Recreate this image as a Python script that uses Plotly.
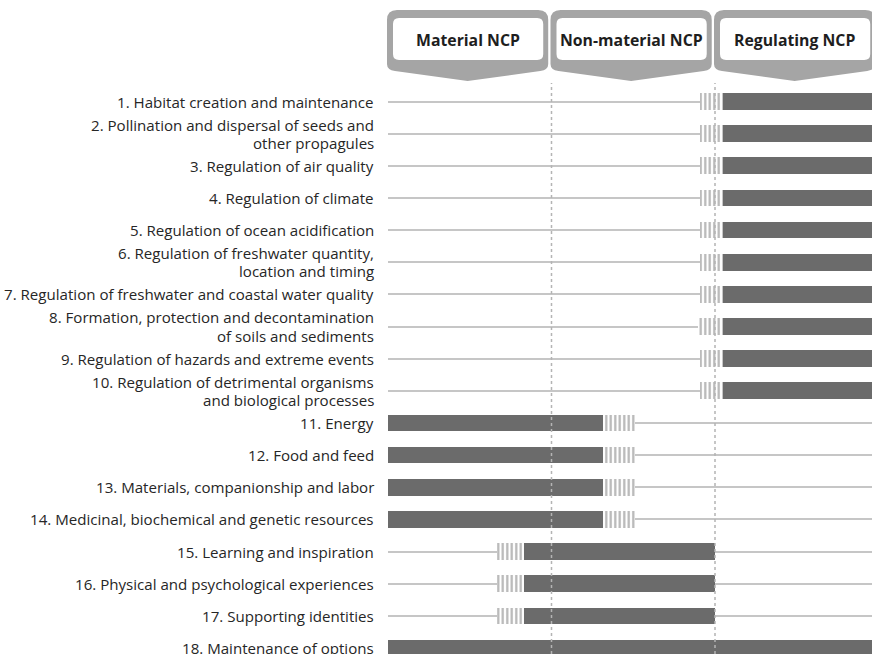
import plotly.graph_objects as go

# ---------------- data ----------------
rows = list(range(1, 19))
labels = [
    "1. Habitat creation and maintenance",
    "2. Pollination and dispersal of seeds and<br>other propagules",
    "3. Regulation of air quality",
    "4. Regulation of climate",
    "5. Regulation of ocean acidification",
    "6. Regulation of freshwater quantity,<br>location and timing",
    "7. Regulation of freshwater and coastal water quality",
    "8. Formation, protection and decontamination<br>of soils and sediments",
    "9. Regulation of hazards and extreme events",
    "10. Regulation of detrimental organisms<br>and biological processes",
    "11. Energy",
    "12. Food and feed",
    "13. Materials, companionship and labor",
    "14. Medicinal, biochemical and genetic resources",
    "15. Learning and inspiration",
    "16. Physical and psychological experiences",
    "17. Supporting identities",
    "18. Maintenance of options",
]
categories = ["Material NCP", "Non-material NCP", "Regulating NCP"]

# solid (full) contribution span, in category-column units (0..3)
solid_start = [2.05]*10 + [0.0]*4 + [0.83]*3 + [0.0]
solid_end   = [3.0]*10 + [1.315]*4 + [2.0]*3 + [3.0]
# partial (hatched) contribution span; None where absent
hatch_start = [1.91, 1.91, 1.91, 1.91, 1.91, 1.91, 1.91, 1.895, 1.91, 1.91,
               1.315, 1.315, 1.315, 1.315, 0.667, 0.667, 0.667, None]
hatch_end   = [2.05]*10 + [1.51]*4 + [0.83]*3 + [None]

# ---------------- layout geometry ----------------
W, H = 872, 654
ML, MR, MT, MB = 388, 0, 88, 0
PW, PH = W - ML - MR, H - MT - MB
UNIT = 163.5  # px per category column
XMAX = PW / UNIT
ROW_PX = 32.15

def xp(px):
    return (px - ML) / PW

def yp(py):
    return (H - MB - py) / PH

BAR = "#6b6b6b"
TXT = "#262626"
FONT = "Open Sans"
LAB_SIZE = 15.1
LINE_GAP = 18.3  # px between lines of a wrapped label

fig = go.Figure()

fig.add_trace(go.Bar(
    orientation="h", y=rows,
    x=[e - s for s, e in zip(solid_start, solid_end)], base=solid_start,
    width=0.52, marker=dict(color=BAR, line=dict(width=0)),
    hoverinfo="skip", showlegend=False))

hy = [r for r, s in zip(rows, hatch_start) if s is not None]
hs = [s for s in hatch_start if s is not None]
he = [e for e in hatch_end if e is not None]
fig.add_trace(go.Bar(
    orientation="h", y=hy, x=[e - s for s, e in zip(hs, he)], base=hs,
    width=0.52,
    marker=dict(color=BAR, line=dict(width=0),
                pattern=dict(shape="|", fgcolor="#6e6e6e", bgcolor="white",
                             size=4.5, solidity=0.5)),
    hoverinfo="skip", showlegend=False))

shapes = []
# dotted column dividers
for xv in [1, 2]:
    shapes.append(dict(type="line", xref="x", yref="paper", x0=xv, x1=xv,
                       y0=0, y1=yp(83), layer="above",
                       line=dict(color="#b4b4b4", width=1.5, dash="dot")))


def to_path(pts, close=True):
    path = ""
    for p in pts:
        cmd, coords = p[0], p[1:]
        cs = [f"{xp(coords[k]):.5f},{yp(coords[k+1]):.5f}"
              for k in range(0, len(coords), 2)]
        path += cmd + " " + " ".join(cs) + " "
    return path + ("Z" if close else "")


annotations = []
# header tabs
for i, name in enumerate(categories):
    L = ML + UNIT * i - 1
    R = ML + UNIT * (i + 0.98)
    mid = (L + R) / 2
    top, r = 10, 10
    outer = [
        ("M", L, top + r), ("Q", L, top, L + r, top), ("L", R - r, top),
        ("Q", R, top, R, top + r), ("L", R, 64), ("Q", R, 70, R - 8, 71),
        ("L", mid, 81), ("L", L + 8, 71), ("Q", L, 70, L, 64),
    ]
    shapes.append(dict(type="path", xref="paper", yref="paper",
                       path=to_path(outer), fillcolor="#a5a5a5",
                       line=dict(width=0), layer="above"))
    iL, iR, iT, iB, ir = L + 6, R - 5, 18, 60, 6
    inner = [
        ("M", iL, iT + ir), ("Q", iL, iT, iL + ir, iT), ("L", iR - ir, iT),
        ("Q", iR, iT, iR, iT + ir), ("L", iR, iB - ir), ("Q", iR, iB, iR - ir, iB),
        ("L", iL + ir, iB), ("Q", iL, iB, iL, iB - ir),
    ]
    shapes.append(dict(type="path", xref="paper", yref="paper",
                       path=to_path(inner), fillcolor="white",
                       line=dict(width=0), layer="above"))
    annotations.append(dict(xref="paper", yref="paper", x=xp(mid), y=yp(40),
                            text=f"<b>{name}</b>", showarrow=False,
                            xanchor="center", yanchor="middle",
                            font=dict(family=FONT, size=15.8, color="#1e1e1e")))

# row labels (wrapped labels are laid out line by line)
for r, lab in zip(rows, labels):
    lines = lab.split("<br>")
    n = len(lines)
    for k, line in enumerate(lines):
        off = (k - (n - 1) / 2) * LINE_GAP / ROW_PX
        annotations.append(dict(xref="paper", yref="y", x=xp(376), y=r + off,
                                text=line, showarrow=False, xanchor="right",
                                yanchor="middle", align="right",
                                font=dict(family=FONT, size=LAB_SIZE, color=TXT)))

fig.update_layout(
    width=W, height=H, margin=dict(l=ML, r=MR, t=MT, b=MB, pad=0),
    paper_bgcolor="white", plot_bgcolor="white",
    barmode="overlay", bargap=0,
    xaxis=dict(range=[0, XMAX], showgrid=False, zeroline=False,
               showticklabels=False, showline=False, fixedrange=True),
    yaxis=dict(range=[18 + 6 / ROW_PX, 1 - 13.5 / ROW_PX],
               tickvals=rows, showticklabels=False, showgrid=True,
               gridcolor="#c6c6c6", gridwidth=1.5, zeroline=False,
               showline=False, fixedrange=True),
    shapes=shapes, annotations=annotations,
)

fig.write_html("out.html", config={"displayModeBar": False},
               post_script="document.body.style.margin='0';")
